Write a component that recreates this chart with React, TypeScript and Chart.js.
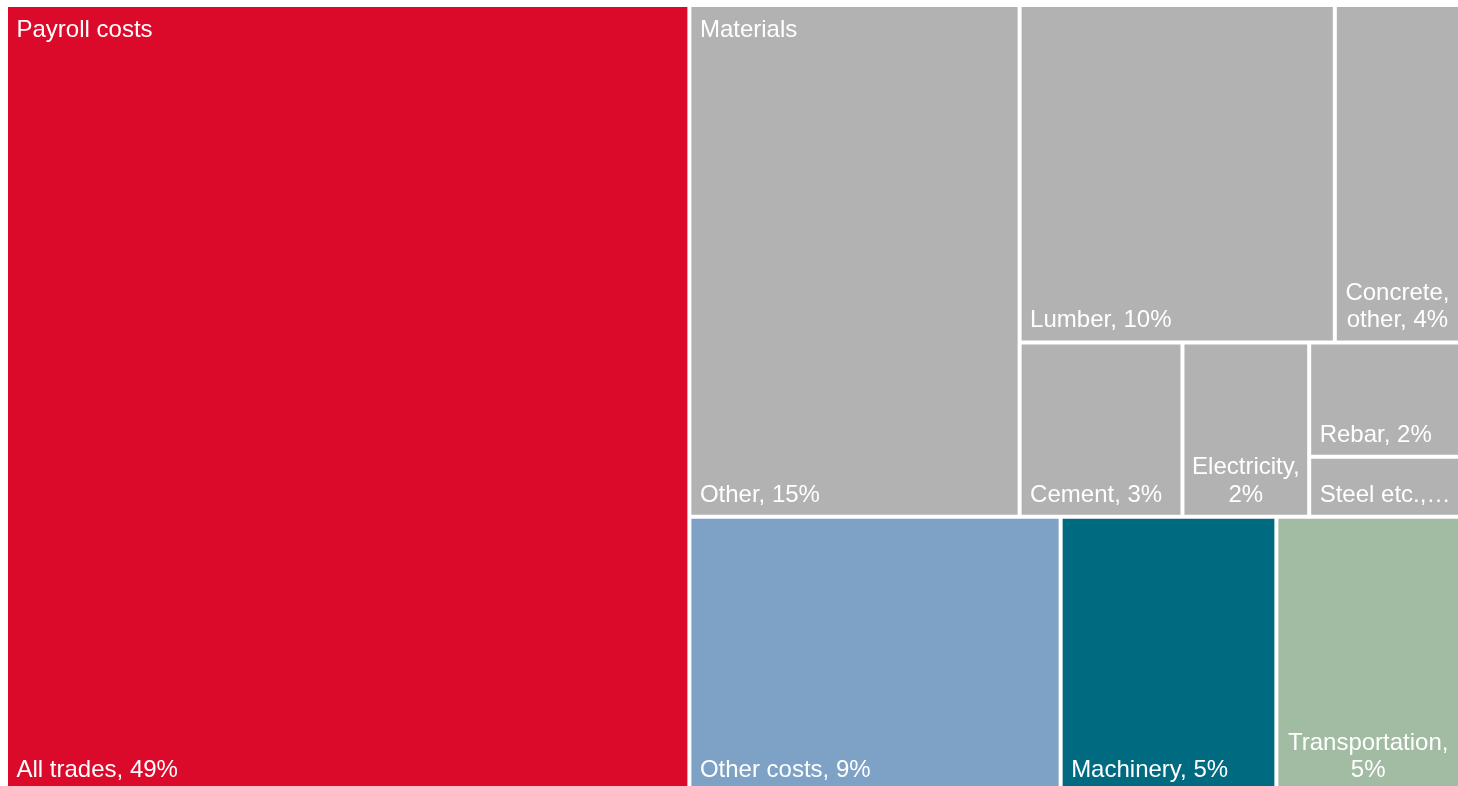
import React, { useEffect, useRef } from 'react';
import { Chart, DatasetController, registerables } from 'chart.js';

Chart.register(...registerables);

// ---- data ----
const leafNames = [
  'All trades',
  'Other',
  'Lumber',
  'Concrete, other',
  'Cement',
  'Electricity',
  'Rebar',
  'Steel etc.',
  'Other costs',
  'Machinery',
  'Transportation',
];
const leafGroups: (string | null)[] = [
  'Payroll costs',
  'Materials',
  'Materials',
  'Materials',
  'Materials',
  'Materials',
  'Materials',
  'Materials',
  null,
  null,
  null,
];
// shares in percent (label shows the rounded value)
const leafValues = [48.65, 15.29, 9.62, 3.82, 2.57, 2.0, 1.56, 0.82, 9.24, 5.37, 4.57];
const leafColors = [
  '#DB0A2B',
  '#B2B2B2',
  '#B2B2B2',
  '#B2B2B2',
  '#B2B2B2',
  '#B2B2B2',
  '#B2B2B2',
  '#B2B2B2',
  '#7EA1C6',
  '#006A80',
  '#A2BBA3',
];
// nesting of the tiles: 'h' = side by side, 'v' = stacked; numbers are leaf indices
const layoutSpec: any = ['h', 0, ['v', ['h', 1, ['v', ['h', 2, 3], ['h', 4, 5, ['v', 6, 7]]]], ['h', 8, 9, 10]]];

// ---- layout helpers ----
type Cell = { x0: number; y0: number; x1: number; y1: number };

function specSum(s: any, vals: number[]): number {
  if (typeof s === 'number') return vals[s];
  return s.slice(1).reduce((a: number, c: any) => a + specSum(c, vals), 0);
}

function layoutTree(s: any, vals: number[], x0: number, y0: number, x1: number, y1: number, out: Cell[]) {
  if (typeof s === 'number') {
    out[s] = { x0, y0, x1, y1 };
    return;
  }
  const dir = s[0];
  const kids = s.slice(1);
  const total = specSum(s, vals);
  let pos = dir === 'h' ? x0 : y0;
  for (const k of kids) {
    const f = specSum(k, vals) / total;
    if (dir === 'h') {
      const w = (x1 - x0) * f;
      layoutTree(k, vals, pos, y0, pos + w, y1, out);
      pos += w;
    } else {
      const h = (y1 - y0) * f;
      layoutTree(k, vals, x0, pos, x1, pos + h, out);
      pos += h;
    }
  }
}

const FONT = '24px "Liberation Sans", Arial, Helvetica, sans-serif';
const PAD_X = 8.5;
const TOP_BASE = 30;
const BOTTOM_BASE = 13;
const LINE_H = 27.5;
const BW = 2;

function wrapText(ctx: CanvasRenderingContext2D, text: string, avail: number): string[] | null {
  const words = text.split(' ');
  const lines: string[] = [];
  let cur = '';
  for (const w of words) {
    if (ctx.measureText(w).width > avail) return null;
    const t = cur ? cur + ' ' + w : w;
    if (ctx.measureText(t).width <= avail) cur = t;
    else {
      lines.push(cur);
      cur = w;
    }
  }
  if (cur) lines.push(cur);
  return lines;
}

function truncate(ctx: CanvasRenderingContext2D, text: string, avail: number): string {
  for (let n = text.length - 1; n > 0; n--) {
    const t = text.slice(0, n).trimEnd() + '…';
    if (ctx.measureText(t).width <= avail) return t;
  }
  return '…';
}

class TreemapController extends DatasetController {
  static id = 'treemap';
  static defaults = { datasetElementType: false, dataElementType: 'bar' };

  update(mode: any) {
    const me: any = this;
    const meta = me._cachedMeta;
    const xs = meta.xScale;
    const ys = meta.yScale;
    const vals: number[] = me.getDataset().data;
    const cells: Cell[] = [];
    layoutTree(layoutSpec, vals, 0, 0, 1, 1, cells);
    meta.data.forEach((el: any, i: number) => {
      const c = cells[i];
      const px0 = xs.getPixelForValue(c.x0);
      const px1 = xs.getPixelForValue(c.x1);
      const py0 = ys.getPixelForValue(c.y0);
      const py1 = ys.getPixelForValue(c.y1);
      me.updateElement(
        el,
        i,
        {
          x: (px0 + px1) / 2,
          y: Math.min(py0, py1),
          base: Math.max(py0, py1),
          width: Math.abs(px1 - px0),
          height: Math.abs(py1 - py0),
          horizontal: false,
          inflateAmount: 0,
          borderSkipped: {},
          options: me.resolveDataElementOptions(i, mode),
        },
        mode
      );
    });
  }

  draw() {
    super.draw();
    const me: any = this;
    const ctx: CanvasRenderingContext2D = me.chart.ctx;
    const els: any[] = me._cachedMeta.data;
    ctx.save();
    ctx.font = FONT;
    ctx.fillStyle = '#ffffff';
    ctx.textBaseline = 'alphabetic';
    els.forEach((el, i) => {
      const left = el.x - el.width / 2 + BW;
      const right = el.x + el.width / 2 - BW;
      const top = el.y + BW;
      const bottom = el.base - BW;
      const w = right - left;
      const h = bottom - top;
      const text = `${leafNames[i]}, ${Math.round(leafValues[i])}%`;
      const avail = w - 12;
      if (ctx.measureText(text).width <= avail) {
        ctx.textAlign = 'left';
        ctx.fillText(text, left + PAD_X, bottom - BOTTOM_BASE);
        return;
      }
      const lines = wrapText(ctx, text, avail);
      if (lines && lines.length * LINE_H + 10 <= h) {
        ctx.textAlign = 'center';
        const cx = (left + right) / 2;
        lines.forEach((ln, k) => {
          ctx.fillText(ln, cx, bottom - BOTTOM_BASE - (lines.length - 1 - k) * LINE_H);
        });
        return;
      }
      ctx.textAlign = 'left';
      ctx.fillText(truncate(ctx, text, avail), left + PAD_X, bottom - BOTTOM_BASE);
    });
    // group headers
    const seen: string[] = [];
    leafGroups.forEach((g) => {
      if (!g || seen.indexOf(g) >= 0) return;
      seen.push(g);
      let gl = Infinity;
      let gt = Infinity;
      els.forEach((el, i) => {
        if (leafGroups[i] !== g) return;
        gl = Math.min(gl, el.x - el.width / 2);
        gt = Math.min(gt, el.y);
      });
      ctx.textAlign = 'left';
      ctx.fillText(g, gl + BW + PAD_X, gt + BW + TOP_BASE);
    });
    ctx.restore();
  }
}

Chart.register(TreemapController as any);

export default function App() {
  const ref = useRef<HTMLCanvasElement>(null);
  useEffect(() => {
    const chart = new Chart(ref.current as HTMLCanvasElement, {
      type: 'treemap' as any,
      data: {
        labels: leafNames,
        datasets: [
          {
            data: leafValues,
            backgroundColor: leafColors,
            borderColor: '#ffffff',
            borderWidth: BW,
          } as any,
        ],
      },
      options: {
        responsive: false,
        animation: false,
        events: [],
        layout: { padding: 0 },
        scales: {
          x: { type: 'linear', min: 0, max: 1, display: false },
          y: { type: 'linear', min: 0, max: 1, reverse: true, display: false },
        },
        plugins: {
          legend: { display: false },
          tooltip: { enabled: false },
          title: { display: false },
        },
      } as any,
    });
    return () => chart.destroy();
  }, []);
  return (
    <div
      style={{
        position: 'fixed',
        left: 0,
        top: 0,
        width: '100vw',
        height: '100vh',
        overflow: 'hidden',
        background: '#ffffff',
      }}
    >
      <canvas
        ref={ref}
        width={1454}
        height={787}
        style={{ position: 'absolute', left: 6, top: 5, width: 1454, height: 787 }}
      />
    </div>
  );
}
